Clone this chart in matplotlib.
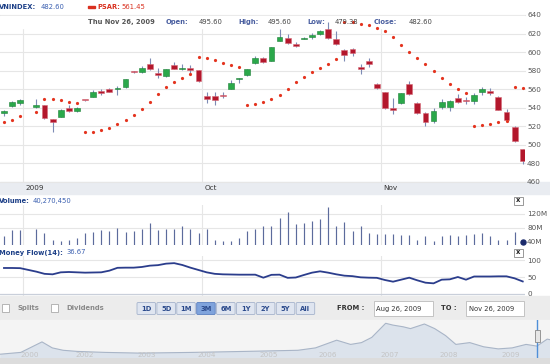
import matplotlib
matplotlib.use('Agg')
import matplotlib.pyplot as plt
from matplotlib.patches import Rectangle, FancyBboxPatch

W, H = 550, 364

# trading days as weekday index from Aug 28 2009 (Sep 2 holiday skipped)
day = [d for d in range(65) if d != 3]

opens = [533.7, 542, 544.5, 541, 542.4, 527.6, 530, 540, 536, 548.3, 551.7, 558.2, 560, 559.8,
         561.8, 578.8, 578.4, 587, 577, 573.7, 585.5, 581.8, 582.4, 580.5, 552.4, 552.7, 553.5,
         560, 570.8, 574.8, 587.8, 594, 590.6, 611.9, 615.5, 608.3, 614.4, 616.2, 619, 624.9,
         614.4, 602.2, 603, 584.1, 590.3, 565.4, 556.4, 538.3, 545.2, 565, 544.5, 534.4, 525.7,
         540.9, 540.5, 550.3, 548.5, 547.4, 556.4, 557.8, 551.7, 535.1, 519.3, 495.6]
closes = [536.2, 546.3, 548, 541.5, 528.3, 524.7, 537.3, 536.2, 540, 547.8, 556.4, 556, 557, 560.2,
          570.5, 578.3, 582.4, 582, 574.8, 581.6, 582, 582.2, 580.5, 568.7, 549.2, 548.5, 552.8,
          566.2, 571.5, 581.3, 594, 589.5, 605, 616.5, 609.4, 606.8, 615.5, 618, 623, 614.8,
          608.6, 596.8, 599.2, 581.3, 587, 560.8, 539.1, 537.8, 555.3, 554.6, 534.4, 524.7, 536.5,
          545.6, 547.4, 545.6, 547, 553.2, 559.7, 555.4, 537.3, 526.5, 503.8, 482.6]
highs = [537.5, 547, 549.5, 549, 543, 528, 538, 542.7, 541, 548.6, 559, 560, 561.5, 563,
         571, 579.5, 585, 593.9, 582.7, 582, 588.9, 586.5, 586, 581, 556.4, 556.8, 556.8,
         569.7, 571.6, 582, 595.7, 595, 605.5, 625.2, 619, 610.8, 616, 620.9, 623.5, 632.4,
         623, 602.8, 604.5, 586.7, 593, 566, 557, 550, 556, 569, 546.5, 535, 539,
         549.5, 548, 554.5, 551, 555.8, 562.5, 561.5, 552.5, 538.7, 520, 495.6]
lows = [531, 541, 543, 539, 527.5, 514, 529.5, 535.5, 535, 547.5, 551, 553.5, 556.5, 553.5,
        561, 577.5, 577.5, 581, 572, 573, 581.5, 581, 575, 568, 544.5, 542.7, 550,
        560, 566, 574, 587, 588.5, 590, 611.5, 609, 605.7, 614, 613.7, 618.5, 614.3,
        608, 590.6, 596, 575.9, 584, 560.3, 538.5, 533, 544, 554, 533.5, 520, 523.5,
        538.5, 536.5, 545, 543.5, 543.8, 553.5, 554, 536.8, 524, 503, 479.38]
psar = [524, 526.5, 531, 535.5, 549.5, 549, 547.8, 546.3, 545.2, 513.5, 514, 515.7, 518.2, 522,
        526.5, 531.6, 538.4, 546.3, 554.6, 561.8, 567.6, 572.4, 576.2, 594.3, 593.5, 591.4, 588.4,
        586, 583.5, 543, 543.8, 545.6, 549.2, 553.5, 560.3, 567.2, 572.6, 578, 582.7, 587.4,
        592.4, 632.4, 632.1, 630.8, 628.9, 626.3, 622.7, 615.9, 607.6, 600, 593.2, 587.4, 579.1,
        571.9, 565.7, 560, 555.4, 520, 520.8, 522.5, 524, 525.4, 562.5, 561.45]
volume = [56, 73, 73, 76, 66, 46, 43, 46, 51, 64, 69, 73, 71, 78, 69, 71, 76, 93, 74, 76, 76,
          86, 76, 66, 76, 46, 41, 43, 51, 71, 76, 86, 86, 108, 126, 91, 94, 98, 104, 138, 86,
          96, 71, 86, 66, 63, 61, 61, 58, 58, 44, 56, 43, 56, 58, 56, 58, 61, 66, 56, 46, 44,
          68, 40.27]  # millions
mflow = [77, 77, 76.5, 66, 59.5, 58, 64, 65, 64, 63, 63.5, 64, 69, 77.5, 78, 78, 80, 84, 85.5,
         90, 91.5, 86, 78, 71, 64, 59.5, 58, 57.5, 57, 57, 57, 48, 56.5, 57, 47.5, 48.5, 56,
         63, 67, 63, 58, 54, 52.5, 49, 48, 47.5, 41, 36, 42, 48, 40, 33, 31, 42, 43, 50, 42,
         51.5, 51.5, 51.5, 52, 52, 46, 36.67]

month_pos = [2.35, 24.45, 46.5]  # Sep 1, Oct 1, Nov 2
month_lbl = ['2009', 'Oct', 'Nov']

nav_year = [2000.74, 2001.08, 2001.43, 2001.6, 2001.78, 2002.01, 2002.47, 2003.05, 2003.92,
            2004.79, 2005.66, 2005.95, 2006.3, 2006.53, 2006.71, 2006.88, 2007.11, 2007.23,
            2007.4, 2007.52, 2007.75, 2007.92, 2008.1, 2008.27, 2008.5, 2008.73, 2008.97,
            2009.2, 2009.43, 2009.61, 2009.78, 2009.83]
nav_val = [174, 232, 570, 377, 300, 264, 232, 209, 232, 264, 300, 377, 625, 489, 547, 715, 1169,
           1111, 1056, 998, 1146, 998, 773, 489, 547, 412, 345, 377, 489, 435, 660, 640]
nav_lbl = ['2000', '2002', '2003', '2004', '2005', '2006', '2007', '2008', '2009']
nav_lbl_pos = [2001.08, 2001.98, 2003.0, 2004.0, 2005.03, 2006.0, 2007.02, 2008.0, 2009.03]

GRID = '#e6e6e6'
NAVY = '#1c3f87'
BLUE = '#3a5fb0'
FS = 5.2   # axis labels
HS = 4.9   # header / widget text


def rect(x0, y0, x1, y1):
    return [x0 / W, 1 - y1 / H, (x1 - x0) / W, (y1 - y0) / H]


fig = plt.figure(figsize=(5.5, 3.64), dpi=100)
fig.patch.set_facecolor('white')

bg = fig.add_axes([0, 0, 1, 1], zorder=0)
bg.set_xlim(0, W)
bg.set_ylim(H, 0)
bg.axis('off')
bg.add_patch(Rectangle((0, 182), W, 12, color='#e9ecf1'))
bg.add_patch(Rectangle((0, 296), W, 24, color='#ececec'))
bg.add_patch(Rectangle((0, 320), W, 38, color='#f4f4f4'))
bg.add_patch(Rectangle((0, 358), W, 6, color='#dcdcdc'))

xlim = (-0.49, 64.28)


def panel(box, ylim, ticks, labels):
    a = fig.add_axes(rect(*box), zorder=2)
    a.patch.set_alpha(0)
    a.set_xlim(*xlim)
    a.set_ylim(*ylim)
    for s in a.spines.values():
        s.set_visible(False)
    a.yaxis.tick_right()
    a.set_yticks(ticks)
    a.set_yticklabels(labels)
    a.tick_params(axis='y', length=0, pad=1.5, labelsize=FS, labelcolor='#555555')
    a.tick_params(axis='x', bottom=False, labelbottom=False)
    for m in month_pos:
        a.axvline(m, color=GRID, lw=0.8, zorder=0)
    return a


# price panel
ax = panel((0, 15, 525, 182), (459.5, 640), list(range(460, 641, 20)),
           [str(v) for v in range(460, 641, 20)])
for v in range(460, 641, 20):
    ax.axhline(v, color=GRID, lw=0.8, zorder=0, clip_on=False)
ax.axhspan(626, 639.3, color='white', zorder=0.6)
for d, o, h, l, c in zip(day, opens, highs, lows, closes):
    up = c >= o
    ax.vlines(d, l, h, color='#7d8bb5', lw=0.8, zorder=3)
    ax.bar(d, max(abs(c - o), 1.2), bottom=min(o, c), width=0.72,
           color='#2aa84a' if up else '#b3172c',
           edgecolor='#1d8038' if up else '#d56a78', lw=0.4, zorder=4)
ax.plot(day, psar, 'o', ms=2.3, color='#e4341f', mec='none', zorder=5)
for m, t in zip(month_pos, month_lbl):
    ax.text(m + 0.25, -0.033, t, transform=ax.get_xaxis_transform(), ha='left',
            va='center', fontsize=FS, color='#333333')

# volume panel
axv = panel((0, 205, 525, 245), (30.6, 144.9), [40, 80, 120], ['40M', '80M', '120M'])
for v in [80, 120]:
    axv.axhline(v, color=GRID, lw=0.8, zorder=0)
axv.vlines(day, 30.6, volume, color='#5c6b9c', lw=0.85, zorder=3)
axv.plot(day[-1], volume[-1], 'o', ms=3.6, color='#1b2a6b', zorder=4, clip_on=False)

# money flow panel
axm = panel((0, 256, 525, 296), (-6.9, 112.9), [0, 50, 100], ['0', '50', '100'])
axm.axhline(100, color=GRID, lw=0.8, zorder=0)
axm.axhline(50, color=GRID, lw=0.8, zorder=0)
axm.axhline(0, color='#c9cfda', lw=0.9, zorder=0)
axm.plot(day, mflow, color='#2b3d8c', lw=1.3, zorder=3)

# navigator
axn = fig.add_axes(rect(0, 320, 550, 358), zorder=2)
axn.patch.set_alpha(0)
axn.set_xlim(2000.736, 2009.826)
axn.set_ylim(51.5, 1275)
axn.axis('off')
axn.fill_between(nav_year, nav_val, 51.5, color='#dce3ec', lw=0)
axn.plot(nav_year, nav_val, color='#a9b5c7', lw=0.8)
axn.axvline(2009.61, color='#4f8fd8', lw=1)
for p, t in zip(nav_lbl_pos, nav_lbl):
    axn.text(p, 0.07, t, transform=axn.get_xaxis_transform(), ha='left', va='center',
             fontsize=FS, color='#c4c4c4')

# overlay texts and widgets
ui = fig.add_axes([0, 0, 1, 1], zorder=10)
ui.set_xlim(0, W)
ui.set_ylim(H, 0)
ui.axis('off')
ui.patch.set_alpha(0)


def txt(x, y, s, color='#444444', bold=False, size=HS, ha='left'):
    ui.text(x, y, s, color=color, fontsize=size, fontweight='bold' if bold else 'normal',
            ha=ha, va='center')


txt(-1.5, 7, 'VNINDEX:', NAVY, True)
txt(41, 7, '482.60', BLUE)
ui.add_patch(Rectangle((88, 5.8), 7, 2.4, color='#d9301f'))
txt(97, 7, 'PSAR:', '#d9301f', True)
txt(121, 7, '561.45', '#d9301f')

txt(88, 22, 'Thu Nov 26, 2009', '#555555', True)
for x, s, b in [(166, 'Open:', True), (199, '495.60', False), (238, 'High:', True),
                (268, '495.60', False), (307, 'Low:', True), (335, '479.38', False),
                (374, 'Close:', True), (409, '482.60', False)]:
    txt(x, 22, s, '#4a5fa0' if b else '#444444', b)

txt(-1, 201, 'Volume:', NAVY, True)
txt(33, 201, '40,270,450', BLUE)
txt(-1, 252.5, 'Money Flow(14):', NAVY, True)
txt(66.5, 252.5, '36.67', BLUE)

for y0 in [196.5, 248.5]:
    ui.add_patch(Rectangle((513.5, y0), 9, 8.5, facecolor='white', edgecolor='#888888', lw=0.6))
    txt(518, y0 + 4, 'x', '#222222', True, ha='center')

# control bar
for x0, s in [(2, 'Splits'), (51, 'Dividends')]:
    ui.add_patch(Rectangle((x0, 304), 7, 8, facecolor='white', edgecolor='#aaaaaa', lw=0.6))
    txt(x0 + 15, 308.3, s, '#8a8a8a', True)

buttons = ['1D', '5D', '1M', '3M', '6M', '1Y', '2Y', '5Y', 'All']
for i, b in enumerate(buttons):
    x0 = 137 + i * 19.9
    act = b == '3M'
    ui.add_patch(FancyBboxPatch((x0, 302.5), 18.5, 12, boxstyle='round,pad=0,rounding_size=1.2',
                                facecolor='#7fa3dc' if act else '#dfe5f0',
                                edgecolor='#5a7fc0' if act else '#a5b3cc', lw=0.6))
    txt(x0 + 9.25, 308.6, b, '#2b4a8c', True, ha='center')

txt(337, 308.5, 'FROM :', '#333333', True)
ui.add_patch(Rectangle((373.5, 301), 59.5, 15, facecolor='white', edgecolor='#bbbbbb', lw=0.6))
txt(376, 308.5, 'Aug 26, 2009', '#333333')
txt(441, 308.5, 'TO :', '#333333', True)
ui.add_patch(Rectangle((466, 301), 58, 15, facecolor='white', edgecolor='#bbbbbb', lw=0.6))
txt(469, 308.5, 'Nov 26, 2009', '#333333')

ui.add_patch(Rectangle((534.5, 330), 5, 12, facecolor='#e6e6e6', edgecolor='#888888', lw=0.6))

fig.savefig('out.png', dpi=100, facecolor='white')
